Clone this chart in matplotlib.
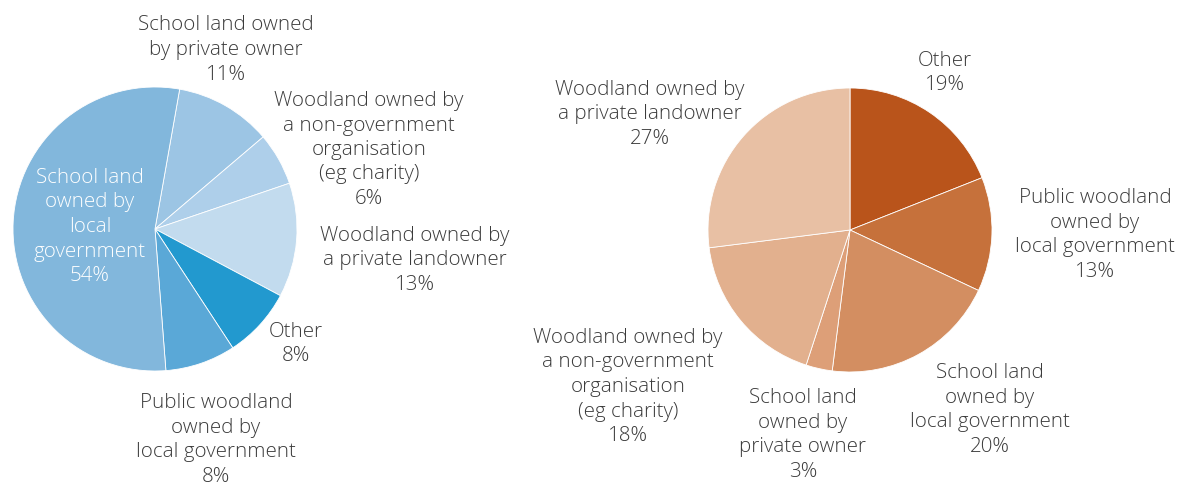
"""Two pie charts: who owns the land used for outdoor learning (blue) vs woodland (orange)."""

import matplotlib
matplotlib.use("Agg")
import matplotlib.pyplot as plt  # noqa: E402

plt.rcParams.update({"font.family": ["Open Sans", "DejaVu Sans"]})

# left pie (blue), clockwise from just right of 12 o'clock
left_labels = [
    "School land owned\nby private owner\n11%",
    "Woodland owned by\na non-government\norganisation\n(eg charity)\n6%",
    "Woodland owned by\na private landowner\n13%",
    "Other\n8%",
    "Public woodland\nowned by\nlocal government\n8%",
    "School land\nowned by\nlocal\ngovernment\n54%",
]
left_values = [11, 6, 13, 8, 8, 54]
left_colors = ["#9cc5e4", "#aecfea", "#c2dbee", "#2299cf", "#5aa8d7", "#82b7dc"]

# right pie (orange), clockwise from 12 o'clock
right_labels = [
    "Other\n19%",
    "Public woodland\nowned by\nlocal government\n13%",
    "School land\nowned by\nlocal government\n20%",
    "School land\nowned by\nprivate owner\n3%",
    "Woodland owned by\na non-government\norganisation\n(eg charity)\n18%",
    "Woodland owned by\na private landowner\n27%",
]
right_values = [19, 13, 20, 3, 18, 27]
right_colors = ["#b9541b", "#c6713b", "#d38e61", "#dd9f78", "#e2b08e", "#e8c0a4"]

W, H = 1183, 493
R = 142

# label block centres in pixels (x from left, y from top)
left_pos = [(226, 50), (369, 150), (415, 260), (296, 344), (216, 440), (90, 227)]
right_pos = [(945, 73), (1095, 235), (990, 410), (803, 435), (628, 387), (650, 114)]
TEXT = "#3b3b3b"

fig = plt.figure(figsize=(W / 100, H / 100), dpi=100)
ax = fig.add_axes([0, 0, 1, 1])


def draw_pie(values, colors, labels, positions, cx, cy, start, inner=None):
    ax.pie(values, colors=colors, startangle=start, counterclock=False,
           center=(cx, H - cy), radius=R,
           wedgeprops={"linewidth": 0.6, "edgecolor": "white"})
    for i, (txt, (x, y)) in enumerate(zip(labels, positions)):
        col = "white" if i == inner else TEXT
        ax.text(x, H - y, txt, ha="center", va="center", fontsize=14.8,
                fontweight=300, color=col, linespacing=1.3)


draw_pie(left_values, left_colors, left_labels, left_pos, 155, 229, 80, inner=5)
draw_pie(right_values, right_colors, right_labels, right_pos, 850, 230, 90)

ax.set_xlim(0, W)
ax.set_ylim(0, H)
ax.set_aspect("equal")
ax.axis("off")

fig.savefig("out.png", dpi=100)
